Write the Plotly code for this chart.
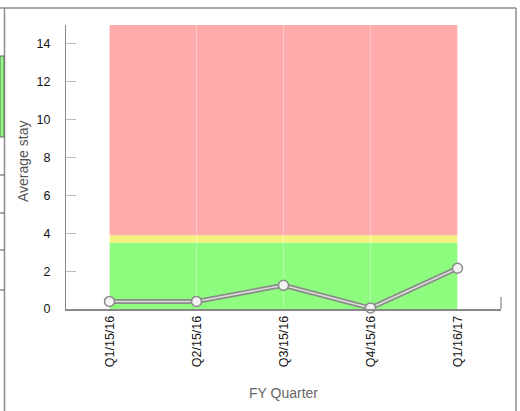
import plotly.graph_objects as go

# ---- data ----
quarters = ["Q1/15/16", "Q2/15/16", "Q3/15/16", "Q4/15/16", "Q1/16/17"]
avg_stay = [0.4, 0.4, 1.25, 0.05, 2.15]
y_ticks = [0, 2, 4, 6, 8, 10, 12, 14]
# threshold bands (lower, upper, colour)
band_green = (0, 3.5)
band_yellow = (3.5, 3.9)
band_red = (3.9, 15)

W, H = 520, 411
L, R, T, B = 66, 19, 25, 102
pw, ph = W - L - R, H - T - B

def px(x):
    return (x - L) / pw

def py(y):
    return (H - B - y) / ph

fig = go.Figure()

# line: grey outline + light inner line
fig.add_trace(go.Scatter(x=quarters, y=avg_stay, mode="lines",
                         line=dict(color="#8a8a8a", width=5),
                         hoverinfo="skip", showlegend=False, cliponaxis=False))
fig.add_trace(go.Scatter(x=quarters, y=avg_stay, mode="lines+markers",
                         line=dict(color="#d8ddd4", width=1.6),
                         marker=dict(size=10, color="#f4f4f4",
                                     line=dict(color="#8a8a8a", width=1.5)),
                         showlegend=False, cliponaxis=False))

shapes = []
for (lo, hi), col in [(band_green, "#8efc7e"), (band_yellow, "#f2f27c"), (band_red, "#ffabab")]:
    shapes.append(dict(type="rect", xref="x", yref="y", x0=0, x1=4, y0=lo, y1=hi,
                       fillcolor=col, line=dict(width=0), layer="below"))

# right-end tick of x axis
shapes.append(dict(type="line", xref="paper", yref="paper", x0=px(501), x1=px(501),
                   y0=py(309), y1=py(297), line=dict(color="#888888", width=1.2)))

# screenshot frame
fc = "#8c8c8c"
shapes += [
    dict(type="line", xref="paper", yref="paper", x0=px(0), x1=px(516), y0=py(8), y1=py(8),
         line=dict(color=fc, width=1.5)),
    dict(type="line", xref="paper", yref="paper", x0=px(516), x1=px(516), y0=py(8), y1=py(411),
         line=dict(color=fc, width=1.5)),
    dict(type="line", xref="paper", yref="paper", x0=px(4.5), x1=px(4.5), y0=py(8), y1=py(411),
         line=dict(color=fc, width=1.5)),
    dict(type="rect", xref="paper", yref="paper", x0=px(0), x1=px(4), y0=py(137), y1=py(56),
         fillcolor="#8efc7e", line=dict(color="#666666", width=1)),
]
for yy in [175, 213, 250, 290]:
    shapes.append(dict(type="line", xref="paper", yref="paper", x0=px(0), x1=px(4),
                       y0=py(yy), y1=py(yy), line=dict(color="#555555", width=1)))

fig.update_layout(
    width=W, height=H,
    margin=dict(l=L, r=R, t=T, b=B),
    paper_bgcolor="white", plot_bgcolor="white",
    font=dict(family="Liberation Sans, Arial, sans-serif", color="#111111"),
    shapes=shapes,
    xaxis=dict(type="category", range=[-0.5, 4.5], tickvals=quarters, ticktext=quarters,
               tickangle=-90, tickfont=dict(size=12.5, color="#111111"),
               showline=True, linecolor="#888888", linewidth=1.5,
               showgrid=True, gridcolor="rgba(255,255,255,0.35)", gridwidth=1,
               ticks="", zeroline=False,
               title=dict(text="FY Quarter", font=dict(size=14, color="#666666"), standoff=22)),
    yaxis=dict(range=[0, 15], tickvals=y_ticks, tickfont=dict(size=12.5, color="#111111"),
               showline=True, linecolor="#888888", linewidth=1.2,
               ticks="inside", ticklen=10, tickcolor="#bbbbbb", tickwidth=1,
               showgrid=False, zeroline=False, ticklabelstandoff=12),
    annotations=[dict(text="Average stay", xref="paper", yref="paper",
                      x=px(23), y=py(162), xanchor="center", yanchor="middle",
                      textangle=-90, showarrow=False,
                      font=dict(size=14, color="#555555"))],
)

fig.write_html("out.html")
